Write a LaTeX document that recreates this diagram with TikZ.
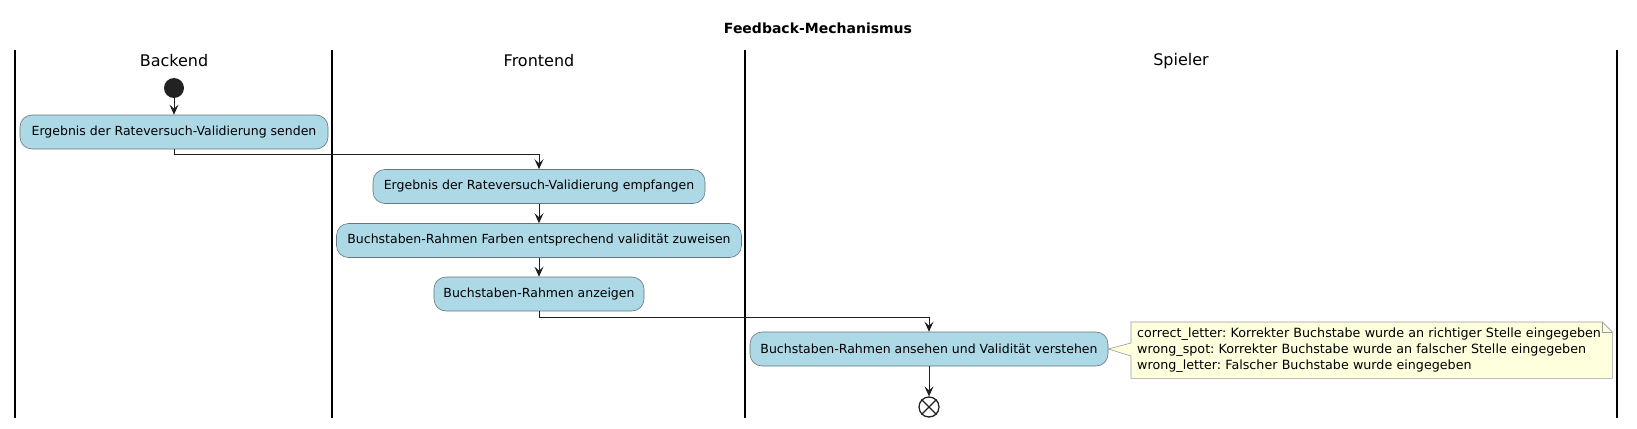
\documentclass[tikz,border=0pt]{standalone}
\usepackage{fontspec}
\setmainfont{DejaVu Sans}
\usetikzlibrary{arrows.meta,calc,backgrounds}
\definecolor{actfill}{HTML}{ADD8E6}
\definecolor{actborder}{HTML}{66777D}
\definecolor{notefill}{HTML}{FEFFDD}
\definecolor{noteborder}{HTML}{9A9A9A}
\definecolor{startfill}{HTML}{222222}
\frenchspacing
\begin{document}
\begin{tikzpicture}[x=1pt,y=-1pt,
  act/.style={draw=actborder, fill=actfill, rounded corners=12pt, minimum height=34pt,
    inner xsep=4pt, inner ysep=0pt, font=\fontsize{12.5}{14}\selectfont, line width=0.6pt},
  flow/.style={-{Stealth[length=10pt,width=9pt,inset=4pt]}, line width=0.9pt, draw=black!88},
  lane/.style={line width=1.4pt, draw=black},
  lanetitle/.style={font=\fontsize{16}{19}\selectfont},
  notetext/.style={align=left, inner xsep=6pt, inner ysep=3pt, font=\fontsize{12.7}{15.7}\selectfont,
    minimum width=481pt, minimum height=56pt, text width=469pt},
  ]
\useasboundingbox (0,0) rectangle (1637,428);
% title
\node[font=\bfseries\fontsize{14}{16}\selectfont] (title) at (818,28) {Feedback-Mechanismus};
% lanes
\coordinate (l0t) at (15,50);   \coordinate (l0b) at (15,418);
\coordinate (l1t) at (332,50);  \coordinate (l1b) at (332,418);
\coordinate (l2t) at (745,50);  \coordinate (l2b) at (745,418);
\coordinate (l3t) at (1617,50); \coordinate (l3b) at (1617,418);
\draw[lane] (l0t) -- (l0b);
\draw[lane] (l1t) -- (l1b);
\draw[lane] (l2t) -- (l2b);
\draw[lane] (l3t) -- (l3b);
\node[lanetitle] (hb) at (174,61) {Backend};
\node[lanetitle] (hf) at (539,61) {Frontend};
\node[lanetitle] (hs) at (1181,61) {Spieler};
% nodes
\node[circle, fill=startfill, minimum size=20pt, inner sep=0pt] (start) at (174,88) {};
\node[act, minimum width=308pt] (b1) at (174,132) {Ergebnis der Rateversuch-Validierung senden};
\node[act, minimum width=332pt] (b2) at (539,186.5) {Ergebnis der Rateversuch-Validierung empfangen};
\node[act, minimum width=405pt] (b3) at (539,240.5) {Buchstaben-Rahmen Farben entsprechend validität zuweisen};
\node[act, minimum width=210pt] (b4) at (539,294) {Buchstaben-Rahmen anzeigen};
\node[act, minimum width=358pt] (b5) at (929,349) {Buchstaben-Rahmen ansehen und Validität verstehen};
\node[circle, draw=startfill, line width=1.3pt, minimum size=20pt, inner sep=0pt] (end) at (929,407) {};
\draw[startfill, line width=1.3pt] (end.north east) -- (end.south west) (end.north west) -- (end.south east);
% note
\node[notetext, anchor=north west] (note) at (1131,322)
  {correct\_letter: Korrekter Buchstabe wurde an richtiger Stelle eingegeben\\
   wrong\_spot: Korrekter Buchstabe wurde an falscher Stelle eingegeben\\
   wrong\_letter: Falscher Buchstabe wurde eingegeben};
\begin{pgfonlayer}{background}
\draw[draw=noteborder, fill=notefill, line width=0.6pt]
  (note.north west) -- ($(note.north east)+(-10,0)$) -- ($(note.north east)+(0,10)$)
  -- (note.south east) -- (note.south west) -- ($(note.north west)+(0,34)$)
  -- (b5.east) -- ($(note.north west)+(0,21)$) -- cycle;
\draw[draw=noteborder, line width=0.6pt]
  ($(note.north east)+(-10,0)$) -- ($(note.north east)+(-10,10)$) -- ($(note.north east)+(0,10)$);
\end{pgfonlayer}
% connectors
\draw[flow] (start) -- (b1);
\draw[flow] (b1.south) -- ++(0,5) -| (b2.north);
\draw[flow] (b2) -- (b3);
\draw[flow] (b3) -- (b4);
\draw[flow] (b4.south) -- ++(0,6) -| (b5.north);
\draw[flow] (b5) -- (end);
\end{tikzpicture}
\end{document}
